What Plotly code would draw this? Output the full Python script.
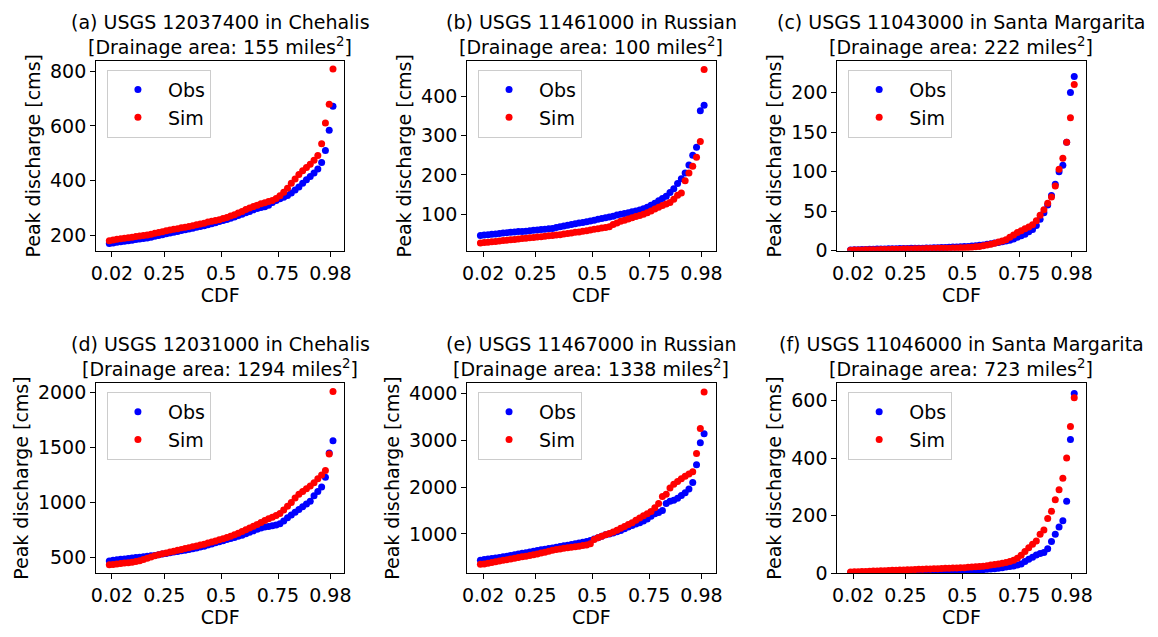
import numpy as np
import plotly.graph_objects as go

# ---------------- data (sorted peak discharges, cms) ----------------
titles = [
    "(a) USGS 12037400 in Chehalis",
    "(b) USGS 11461000 in Russian",
    "(c) USGS 11043000 in Santa Margarita",
    "(d) USGS 12031000 in Chehalis",
    "(e) USGS 11467000 in Russian",
    "(f) USGS 11046000 in Santa Margarita",
]
areas = [155, 100, 222, 1294, 1338, 723]

obs_a = [170, 172, 174, 176, 178, 180, 182, 184, 186, 188, 190, 193, 196, 199, 202,
         205, 208, 211, 214, 217, 220, 223, 226, 229, 232, 235, 238, 242, 246, 250,
         254, 258, 262, 267, 272, 277, 282, 287, 293, 298, 301, 304, 310, 320, 327,
         333, 339, 345, 354, 365, 376, 390, 403, 415, 428, 442, 466, 510, 584, 672]
sim_a = [180, 183, 185, 187, 189, 191, 193, 195, 197, 199, 201, 204, 207, 210, 213,
         216, 219, 222, 224, 227, 229, 232, 235, 238, 241, 244, 248, 251, 254, 257,
         261, 265, 270, 275, 281, 287, 294, 300, 305, 310, 315, 319, 323, 327, 334,
         344, 357, 372, 390, 406, 422, 436, 448, 460, 474, 492, 535, 610, 679, 808]

obs_b = [46, 47, 48, 49, 50, 51, 52, 53, 54, 55, 56, 56, 57, 58, 59,
         60, 61, 62, 63, 64, 66, 68, 70, 72, 74, 76, 78, 79, 81, 83,
         85, 87, 89, 91, 93, 95, 98, 100, 102, 104, 106, 108, 111, 114, 118,
         123, 128, 134, 140, 146, 155, 165, 178, 190, 205, 225, 250, 270, 363, 377]
sim_b = [27, 28, 29, 30, 31, 32, 33, 34, 35, 36, 37, 38, 39, 40, 41,
         42, 43, 44, 45, 46, 47, 48, 50, 51, 52, 54, 55, 57, 58, 60,
         62, 63, 65, 66, 68, 74, 78, 82, 85, 88, 91, 94, 97, 100, 104,
         108, 113, 118, 122, 126, 130, 138, 148, 154, 185, 205, 222, 245, 285, 468]

obs_c = [1.0, 1.2, 1.4, 1.6, 1.8, 2.0, 2.1, 2.2, 2.3, 2.4, 2.5, 2.6, 2.7, 2.8, 2.9,
         3.0, 3.1, 3.2, 3.3, 3.4, 3.5, 3.6, 3.8, 4.0, 4.1, 4.3, 4.5, 4.7, 4.9, 5.1,
         5.3, 5.6, 6.0, 6.4, 6.9, 7.5, 8.2, 9.0, 9.8, 10.6, 11.5, 12.5, 13.5, 15.0, 17.0,
         19.0, 21.0, 24.0, 27.0, 32.0, 40.0, 48.0, 58.0, 70.0, 84.0, 100.0, 108.0, 137.0, 200.0, 220.0]
sim_c = [0.8, 0.9, 1.0, 1.1, 1.2, 1.3, 1.4, 1.5, 1.6, 1.7, 1.8, 1.9, 2.0, 2.1, 2.2,
         2.3, 2.4, 2.5, 2.6, 2.7, 2.8, 2.9, 3.0, 3.1, 3.2, 3.3, 3.4, 3.5, 3.6, 3.8,
         4.0, 4.2, 4.5, 5.0, 5.6, 6.3, 7.2, 8.3, 9.5, 11.0, 12.5, 14.0, 17.0, 20.0, 23.0,
         25.5, 28.0, 30.0, 33.0, 38.0, 45.0, 52.0, 60.0, 68.0, 82.0, 103.0, 117.0, 137.0, 168.0, 210.0]

obs_d = [468, 474, 478, 482, 486, 490, 494, 498, 502, 506, 510, 514, 518, 524, 530,
         536, 542, 548, 554, 560, 566, 572, 578, 586, 594, 602, 612, 622, 632, 642,
         652, 662, 672, 682, 692, 702, 714, 728, 742, 756, 768, 776, 782, 788, 795,
         805, 830, 860, 885, 910, 935, 960, 985, 1010, 1060, 1100, 1140, 1230, 1450, 1560]
sim_d = [432, 436, 440, 444, 448, 452, 456, 462, 470, 480, 492, 504, 514, 524, 532,
         540, 548, 556, 564, 572, 580, 588, 596, 604, 612, 620, 630, 640, 650, 660,
         670, 680, 692, 706, 720, 736, 752, 768, 784, 800, 818, 836, 852, 866, 880,
         900, 930, 965, 1000, 1040, 1075, 1100, 1125, 1150, 1180, 1215, 1250, 1290, 1440, 2010]

obs_e = [440, 455, 465, 475, 485, 495, 510, 525, 540, 555, 570, 585, 600, 615, 630,
         645, 660, 675, 690, 700, 715, 730, 745, 760, 775, 790, 805, 820, 840, 860,
         890, 920, 950, 980, 1000, 1020, 1045, 1075, 1110, 1150, 1180, 1210, 1240, 1275, 1320,
         1380, 1430, 1460, 1500, 1650, 1700, 1720, 1760, 1820, 1880, 1960, 2100, 2480, 2950, 3140]
sim_e = [350, 360, 375, 390, 405, 420, 435, 450, 465, 480, 495, 510, 525, 540, 555,
         570, 590, 610, 630, 650, 665, 680, 695, 705, 715, 725, 735, 750, 765, 790,
         880, 920, 950, 980, 1010, 1040, 1080, 1120, 1160, 1200, 1240, 1290, 1340, 1390, 1430,
         1480, 1560, 1650, 1800, 1850, 1980, 2060, 2120, 2180, 2230, 2280, 2330, 2720, 3250, 4030]

obs_f = [1, 1, 1, 1, 1, 1.5, 1.5, 1.5, 2, 2, 2, 2.5, 2.5, 3, 3,
         3, 3.5, 3.5, 4, 4, 4.5, 4.5, 5, 5, 5.5, 6, 6, 6.5, 7, 7.5,
         8, 8.5, 9, 10, 11, 12, 13, 14, 15, 17, 19, 21, 23, 25, 28,
         32, 40, 48, 55, 63, 68, 72, 85, 110, 135, 160, 182, 250, 465, 625]
sim_f = [4, 4.5, 5, 5.5, 6, 6.5, 7, 7.5, 8, 8.5, 9, 9.5, 10, 10.5, 11,
         11.5, 12, 12.5, 13, 13.5, 14, 14.5, 15, 15.5, 16, 16.5, 17, 17.5, 18, 18.5,
         19, 20, 21, 22, 23, 24, 26, 28, 30, 32, 34, 37, 40, 45, 52,
         62, 75, 88, 100, 112, 135, 150, 190, 215, 255, 290, 330, 400, 510, 610]

xtick_vals = [0.02, 0.25, 0.5, 0.75, 0.98]
xtick_text = ["0.02", "0.25", "0.5", "0.75", "0.98"]

# ---------------- layout config ----------------
W, H = 1158, 637
FONT = "DejaVu Sans"
FS = 19
col_left = [92, 467, 841]
col_w = 251
row_top = [60, 389]
row_h = 194
y_ranges = [[143, 838], [7, 490], [0, 240], [357, 2086], [163, 4223], [0, 661]]
y_dticks = [200, 100, 50, 500, 1000, 200]
x_range = [-0.05, 1.042]

obs_all = [obs_a, obs_b, obs_c, obs_d, obs_e, obs_f]
sim_all = [sim_a, sim_b, sim_c, sim_d, sim_e, sim_f]

fig = go.Figure()
annotations = []
layout = dict(
    width=W, height=H,
    margin=dict(l=0, r=0, t=0, b=0),
    paper_bgcolor="white", plot_bgcolor="white",
    font=dict(family=FONT, size=FS, color="black"),
    showlegend=True,
)

for k in range(6):
    r, c = divmod(k, 3)
    sfx = "" if k == 0 else str(k + 1)
    left = col_left[c]
    top = row_top[r]
    x0, x1 = left / W, (left + col_w) / W
    y1 = 1 - top / H
    y0 = 1 - (top + row_h) / H
    leg = "legend" + sfx

    for vals, name, color in [(obs_all[k], "Obs", "#0000ff"), (sim_all[k], "Sim", "#ff0000")]:
        v = np.sort(np.asarray(vals, dtype=float))
        n = len(v)
        cdf = (np.arange(1, n + 1) - 0.5) / n
        fig.add_trace(go.Scatter(
            x=cdf, y=v, mode="markers", name=name,
            marker=dict(color=color, size=7, line=dict(width=0)),
            xaxis="x" + sfx, yaxis="y" + sfx, legend=leg,
            showlegend=True,
        ))

    layout["xaxis" + sfx] = dict(
        domain=[x0, x1], anchor="y" + sfx, range=x_range,
        tickmode="array", tickvals=xtick_vals, ticktext=xtick_text,
        showline=True, mirror=True, linecolor="black", linewidth=1,
        ticks="outside", ticklen=5, tickcolor="black", showgrid=False, zeroline=False,
        tickfont=dict(size=FS, family=FONT, color="black"),
        title=dict(text="CDF", font=dict(size=FS, family=FONT, color="black"), standoff=2),
    )
    layout["yaxis" + sfx] = dict(
        domain=[y0, y1], anchor="x" + sfx, range=y_ranges[k],
        tickmode="linear", tick0=0, dtick=y_dticks[k],
        showline=True, mirror=True, linecolor="black", linewidth=1,
        ticks="outside", ticklen=5, tickcolor="black", showgrid=False, zeroline=False,
        tickfont=dict(size=FS, family=FONT, color="black"),
        title=dict(text="Peak discharge [cms]", font=dict(size=FS, family=FONT, color="black"), standoff=4),
    )
    layout[leg] = dict(
        x=(left + 11) / W, y=1 - (top + 9) / H, xanchor="left", yanchor="top",
        xref="paper", yref="paper",
        bgcolor="rgba(255,255,255,0.8)", bordercolor="#cccccc", borderwidth=1,
        font=dict(size=FS, family=FONT, color="black"),
        itemwidth=50, tracegroupgap=0,
    )
    xc = (x0 + x1) / 2
    annotations.append(dict(
        text=titles[k], x=xc, y=1 - (top - 40) / H, xref="paper", yref="paper",
        xanchor="center", yanchor="middle", showarrow=False,
        font=dict(size=FS, family=FONT, color="black"),
    ))
    annotations.append(dict(
        text="[Drainage area: %d miles<sup>2</sup>]" % areas[k], x=xc, y=1 - (top - 15) / H,
        xref="paper", yref="paper", xanchor="center", yanchor="middle", showarrow=False,
        font=dict(size=FS, family=FONT, color="black"),
    ))

layout["annotations"] = annotations
fig.update_layout(**layout)
fig.write_html("out.html")
